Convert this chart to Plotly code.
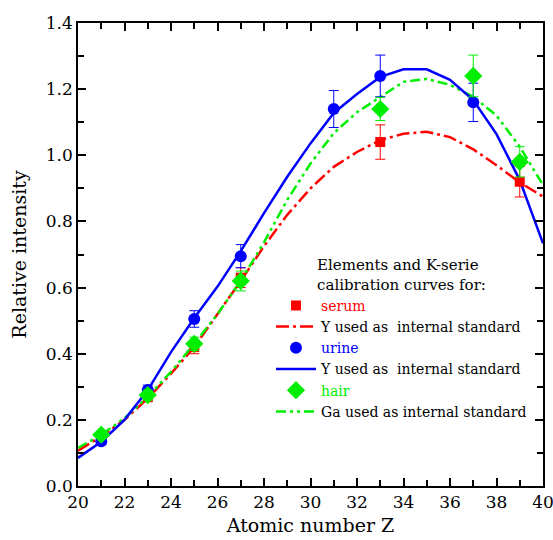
import plotly.graph_objects as go

# measured points
z_serum = [21, 23, 25, 27, 33, 39]
serum = [0.15, 0.27, 0.42, 0.63, 1.04, 0.92]
serum_err = [0.01, 0.015, 0.02, 0.03, 0.052, 0.046]

z_urine = [21, 23, 25, 27, 31, 33, 37]
urine = [0.135, 0.29, 0.505, 0.695, 1.14, 1.24, 1.16]
urine_err = [0.01, 0.015, 0.025, 0.035, 0.056, 0.063, 0.058]

z_hair = [21, 23, 25, 27, 33, 37, 39]
hair = [0.155, 0.275, 0.43, 0.62, 1.14, 1.24, 0.98]
hair_err = [0.01, 0.015, 0.02, 0.03, 0.035, 0.063, 0.046]

# calibration curves
z_fit = list(range(20, 41))
fit_serum = [0.107, 0.15, 0.2, 0.265, 0.34, 0.42, 0.52, 0.62, 0.725, 0.82, 0.9,
             0.965, 1.01, 1.046, 1.065, 1.071, 1.055, 1.018, 0.97, 0.918, 0.875]
fit_urine = [0.085, 0.134, 0.2, 0.29, 0.405, 0.508, 0.603, 0.71, 0.825, 0.935, 1.036,
             1.128, 1.185, 1.237, 1.26, 1.26, 1.228, 1.167, 1.064, 0.925, 0.734]
fit_hair = [0.115, 0.155, 0.205, 0.27, 0.345, 0.43, 0.52, 0.62, 0.737, 0.865, 0.975,
            1.067, 1.13, 1.177, 1.222, 1.231, 1.213, 1.177, 1.12, 1.026, 0.91]

RED = '#ff0000'
BLUE = '#0000ff'
GREEN = '#00ee00'
FONT = 'DejaVu Serif'

fig = go.Figure()


def add_fit(y, color, dash, name, rank):
    fig.add_trace(go.Scatter(
        x=z_fit, y=y, mode='lines', name=name, legendrank=rank,
        line=dict(color=color, width=2.5, dash=dash)))


def add_points(x, y, err, color, symbol, size, name, rank):
    fig.add_trace(go.Scatter(
        x=x, y=y, mode='markers', legendrank=rank,
        name='<span style="color:%s">%s</span>' % (color, name),
        marker=dict(color=color, symbol=symbol, size=size),
        error_y=dict(type='data', array=err, visible=True, color=color,
                     thickness=1, width=5)))


add_fit(fit_serum, RED, '13px,4px,3px,4px', 'Y used as  internal standard', 2)
add_fit(fit_hair, GREEN, '10px,4px,3px,4px,3px,4px', 'Ga used as internal standard', 6)
add_fit(fit_urine, BLUE, 'solid', 'Y used as  internal standard', 4)

add_points(z_serum, serum, serum_err, RED, 'square', 10, 'serum', 1)
add_points(z_urine, urine, urine_err, BLUE, 'circle', 12, 'urine', 3)
add_points(z_hair, hair, hair_err, GREEN, 'diamond', 14, 'hair', 5)

axis = dict(showline=True, linecolor='black', linewidth=1.5, mirror='ticks',
            ticks='inside', ticklen=8, tickwidth=1.5, tickcolor='black',
            showgrid=False, zeroline=False, automargin=False,
            ticklabeloverflow='allow',
            tickfont=dict(family=FONT, size=17, color='black'))

fig.update_layout(
    width=553, height=540,
    margin=dict(l=78, r=10, t=23, b=54),
    plot_bgcolor='white', paper_bgcolor='white',
    font=dict(family=FONT, color='black'),
    xaxis=dict(axis, range=[20, 40], dtick=2,
               minor=dict(ticks='inside', ticklen=6, dtick=1, tickcolor='black', tickwidth=1.5),
               title=dict(text='Atomic number Z', font=dict(family=FONT, size=19), standoff=8)),
    yaxis=dict(axis, range=[0, 1.4], dtick=0.2, tickformat='.1f',
               minor=dict(ticks='inside', ticklen=6, dtick=0.1, tickcolor='black', tickwidth=1.5),
               title=dict(text='Relative intensity', font=dict(family=FONT, size=19), standoff=14)),
    legend=dict(x=0.415, y=0.508, xanchor='left', yanchor='top',
                bgcolor='rgba(0,0,0,0)', font=dict(family=FONT, size=14),
                itemwidth=40,
                title=dict(text='Elements and K-serie<br>calibration curves for:',
                           side='top center', font=dict(family=FONT, size=15)),
                tracegroupgap=0),
)

fig.write_html("out.html", config={'displayModeBar': False},
               post_script="document.body.style.margin='0';")
